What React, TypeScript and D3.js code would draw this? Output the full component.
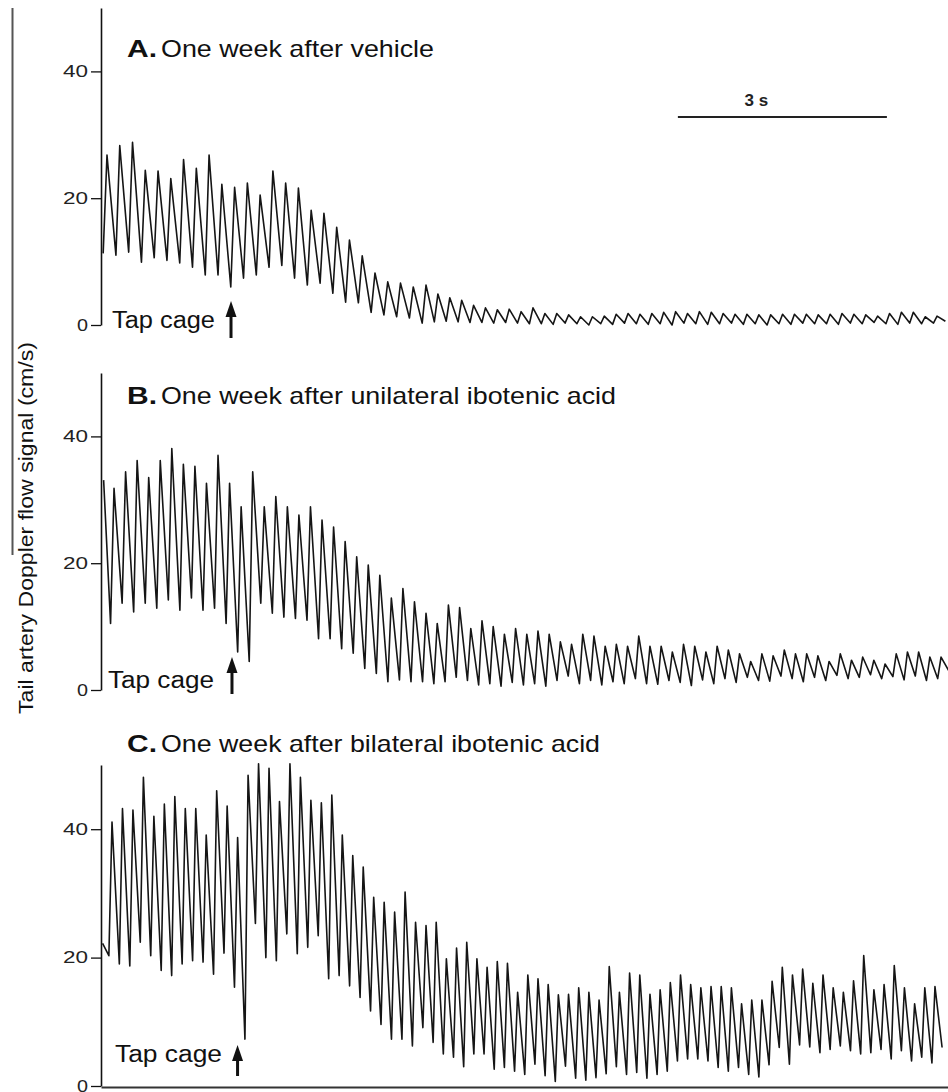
import React, { useEffect, useRef } from 'react';
import * as d3 from 'd3';

// Values, beat by beat (cm/s).
// troughs[i] is the minimum just before beat i; the extra last trough is the value at the right edge.

// A. vehicle
const peaksA = [26.8, 28.3, 28.8, 24.4, 24.3, 23.1, 26.1, 24.7, 26.8, 22.2, 21.7, 22.4, 20.5, 24.3, 22.4, 21.6, 18.1, 17.6, 15.4, 13.4, 10.9, 8.2, 6.8, 6.6, 6.0, 6.3,
  4.9, 4.3, 3.9, 3.1, 2.7, 2.4, 2.5, 2.1, 2.7,
  1.8, 1.8, 1.6, 1.3, 1.3, 1.4, 1.7, 1.8, 1.7, 1.8, 2.0, 2.1, 1.8, 2.1, 2.0, 1.8, 1.7, 1.7, 1.6, 1.6,
  1.7, 1.7, 1.7, 1.6, 1.7, 1.8, 1.7, 1.6, 1.4, 1.8, 2.0, 2.0, 1.3, 1.4];
const troughsA = [11.3, 11.0, 11.5, 9.9, 10.6, 10.2, 9.8, 9.1, 7.9, 7.9, 6.0, 7.4, 7.9, 9.1, 9.4, 7.4, 6.3, 6.6, 5.0, 3.6, 3.5, 2.0, 1.6, 1.3, 1.1, 0.3,
  0.5, 0.6, 0.5, 0.4, 0.4, 0.3, 0.4, 0.3, 0.2,
  0.2, 0.1, 0.3, 0.2, 0.0, 0.2, 0.1, 0.3, 0.2, 0.1, 0.2, 0.0, 0.3, 0.2, 0.1, 0.2, 0.3, 0.1, 0.2, 0.0,
  0.2, 0.1, 0.3, 0.2, 0.2, 0.1, 0.3, 0.2, 0.4, 0.2, 0.1, 0.3, 0.2, 0.3,
  0.6];
const beatIndexA = [0, 25, 68];
const beatTimeA = [0.086, 4.665, 12.0];

// B. unilateral ibotenic acid
const startB = 33.1;
const peaksB = [31.8, 34.4, 36.2, 33.5, 36.2, 38.1, 35.6, 35.3, 32.6, 37.0, 32.6, 28.9, 34.4, 28.9, 30.5, 28.9, 27.6, 28.9, 26.8, 25.7, 23.4, 21.0, 19.7, 18.1, 14.5, 16.0, 13.9, 12.1,
  10.5, 13.4, 13.0, 9.7, 10.9, 10.0, 8.8, 9.7, 8.8, 9.3, 8.8, 7.6, 7.2, 8.8, 8.5, 6.9, 7.2, 6.9, 8.5, 6.9,
  6.9, 6.0, 7.2, 6.9, 6.0, 6.9, 6.3, 5.7, 4.5, 5.7, 5.4, 6.3, 5.7, 5.7, 5.4, 4.5, 5.7, 4.7, 5.2, 4.7,
  4.1, 5.7, 6.0, 6.0, 5.2, 5.2];
const troughsB = [10.5, 13.7, 12.3, 13.7, 12.9, 14.2, 12.6, 14.5, 12.6, 12.9, 10.5, 6.0, 4.5, 13.7, 12.1, 11.5, 11.3, 11.0, 8.1, 8.1, 6.5, 5.8, 3.4, 2.6, 1.3, 1.6, 1.3, 1.3,
  1.0, 1.3, 2.0, 1.5, 0.8, 1.0, 0.6, 1.2, 0.8, 1.0, 0.6, 1.5, 2.2, 1.0, 1.5, 0.8, 1.3, 1.0,
  1.8, 1.0, 0.9, 1.5, 1.2, 0.7, 1.6, 1.0, 1.8, 1.2, 2.0, 1.5, 1.4, 2.2, 1.8, 1.3, 2.0, 1.5,
  2.3, 1.8, 2.0, 2.4, 1.8, 2.1, 1.6, 2.2, 1.5, 1.8,
  3.0];
const beatIndexB = [0, 27, 73];
const beatTimeB = [0.187, 4.665, 12.057];

// C. bilateral ibotenic acid
const startC = 22.2;
const peaksC = [41.1, 43.2, 43.0, 48.1, 42.0, 43.9, 45.1, 43.2, 43.2, 39.1, 46.0, 43.6, 38.7, 48.4, 50.2, 49.5, 44.3, 50.2, 48.1, 44.5, 44.1, 45.3, 39.1, 35.9, 34.1, 29.4, 28.6, 27.1, 30.2, 25.5, 25.0,
  25.5, 19.8, 21.5, 22.4, 19.8, 18.5, 19.4, 19.1, 14.6, 17.3, 16.7, 15.8, 14.2, 14.3, 15.3, 14.6, 13.4, 18.6, 14.6, 17.6,
  17.3, 14.3, 15.0, 16.1, 17.3, 15.8, 15.3, 15.5, 15.5, 15.3, 12.8, 13.4, 13.4, 16.3, 18.5, 17.3, 18.2, 16.0, 17.3, 15.3,
  14.6, 16.4, 20.3, 15.0, 15.8, 18.75, 15.3, 12.8, 15.3, 15.5];
const troughsC = [20.3, 19.0, 18.7, 22.4, 20.3, 18.0, 17.2, 19.0, 19.5, 19.3, 17.4, 20.7, 15.4, 7.3, 25.3, 20.0, 19.5, 23.7, 20.6, 21.6, 23.4, 16.7, 17.2, 15.6, 13.8, 11.7, 9.6, 7.3, 7.3, 6.25, 9.1,
  6.8, 5.0, 4.5, 3.0, 5.0, 5.0, 2.6, 2.9, 2.3, 1.8, 3.4, 1.6, 0.7, 3.1, 1.2, 0.9, 1.3, 1.9, 3.0, 1.8,
  2.1, 1.2, 1.8, 2.3, 3.9, 4.2, 4.2, 3.9, 2.9, 2.3, 2.9, 1.8, 1.4, 3.3, 6.0, 3.4, 6.4, 6.1, 5.2, 5.7,
  6.25, 5.5, 5.0, 5.2, 5.7, 4.2, 5.5, 3.9, 4.5, 3.6,
  6.0];
const beatIndexC = [0, 30, 80];
const beatTimeC = [0.158, 4.665, 11.97];

const yTicks = [0, 20, 40];
const yMax = 50;
const totalSeconds = 12.157;
const tapTimes = [1.866, 1.88, 1.96];
const scaleBarStart = 8.28;
const scaleBarSeconds = 3;

const W = 948;
const H = 1092;
const FONT = '"Liberation Sans", Arial, Helvetica, sans-serif';

const panels = [
  { letter: 'A.', title: 'One week after vehicle', titleW: 273, titleY: 57, zero: 325, top: 8,
    peaks: peaksA, troughs: troughsA, bIdx: beatIndexA, bT: beatTimeA, start: null as number | null,
    tapX: 112, tapY: 328, tapW: 103, arrowTop: 301, arrowBottom: 338 },
  { letter: 'B.', title: 'One week after unilateral ibotenic acid', titleW: 455, titleY: 404, zero: 690, top: 373,
    peaks: peaksB, troughs: troughsB, bIdx: beatIndexB, bT: beatTimeB, start: startB,
    tapX: 108, tapY: 688, tapW: 106, arrowTop: 657, arrowBottom: 694 },
  { letter: 'C.', title: 'One week after bilateral ibotenic acid', titleW: 439, titleY: 752, zero: 1086, top: 765,
    peaks: peaksC, troughs: troughsC, bIdx: beatIndexC, bT: beatTimeC, start: startC,
    tapX: 115, tapY: 1062, tapW: 107, arrowTop: 1045, arrowBottom: 1076 },
];

const x = d3.scaleLinear().domain([0, totalSeconds]).range([101, 948]);

function tracePoints(p: typeof panels[number]): [number, number][] {
  const beat = d3.scaleLinear().domain(p.bIdx).range(p.bT);
  const pts: [number, number][] = [];
  if (p.start != null) pts.push([beat(-0.9), p.start]);
  p.peaks.forEach((v, i) => {
    pts.push([beat(i - 0.3), p.troughs[i]]);
    pts.push([beat(i), v]);
  });
  pts.push([beat(p.peaks.length - 0.3), p.troughs[p.peaks.length]]);
  return pts;
}

function Panel({ p, idx }: { p: typeof panels[number]; idx: number }) {
  const axisRef = useRef<SVGGElement>(null);
  const bottomRef = useRef<SVGGElement>(null);
  const y = d3.scaleLinear().domain([0, yMax]).range([p.zero, p.top]);

  useEffect(() => {
    const g = d3.select(axisRef.current);
    g.selectAll('*').remove();
    g.call(d3.axisLeft(y).tickValues(yTicks).tickSize(10).tickPadding(3).tickSizeOuter(0) as any);
    g.select('.domain').attr('stroke', '#111').attr('stroke-width', 1.6);
    g.selectAll('.tick line').attr('stroke', '#111').attr('stroke-width', 1.3);
    g.selectAll('.tick text')
      .attr('font-family', FONT)
      .attr('font-size', 16)
      .attr('fill', '#222')
      .attr('textLength', (d: any) => (d === 0 ? 11 : 25))
      .attr('lengthAdjust', 'spacingAndGlyphs');
    if (bottomRef.current) {
      const b = d3.select(bottomRef.current);
      b.selectAll('*').remove();
      b.call(d3.axisBottom(x).tickValues([]).tickSizeOuter(0) as any);
      b.select('.domain').attr('stroke', '#333').attr('stroke-width', 2.2);
    }
  }, []);

  const line = d3.line<[number, number]>()
    .x(d => x(d[0]))
    .y(d => y(d[1]))
    .curve(d3.curveLinear);

  const ax = x(tapTimes[idx]);

  return (
    <g>
      <text x={127} y={p.titleY} fontFamily={FONT} fontSize={24} fontWeight="bold" fill="#111"
        textLength={30} lengthAdjust="spacingAndGlyphs">{p.letter}</text>
      <text x={161} y={p.titleY} fontFamily={FONT} fontSize={24} fill="#111"
        textLength={p.titleW} lengthAdjust="spacingAndGlyphs">{p.title}</text>
      <path d={line(tracePoints(p)) || ''} fill="none" stroke="#151515" strokeWidth={1.6} strokeLinejoin="round" clipPath="url(#plotClip)" />
      <g ref={axisRef} transform="translate(101,0)" />
      {idx === 2 && <g ref={bottomRef} transform={`translate(0,${p.zero + 1})`} />}
      <text x={p.tapX} y={p.tapY} fontFamily={FONT} fontSize={23} fill="#111"
        textLength={p.tapW} lengthAdjust="spacingAndGlyphs">Tap cage</text>
      <line x1={ax} x2={ax} y1={p.arrowTop + 10} y2={p.arrowBottom} stroke="#111" strokeWidth={3} />
      <path d={`M${ax},${p.arrowTop} L${ax - 5.5},${p.arrowTop + 16} L${ax + 5.5},${p.arrowTop + 16} Z`} fill="#111" />
    </g>
  );
}

export default function App() {
  return (
    <svg width={W} height={H} style={{ position: 'absolute', left: 0, top: 0, background: '#fff' }}>
      <defs>
        <clipPath id="plotClip">
          <rect x={101} y={0} width={W - 101} height={H} />
        </clipPath>
      </defs>
      <rect width={W} height={H} fill="#fff" />
      <line x1={12.5} x2={12.5} y1={8} y2={555} stroke="#555" strokeWidth={2} />
      <text transform="translate(33,528) rotate(-90)" textAnchor="middle" fontFamily={FONT} fontSize={21} fill="#111"
        textLength={372} lengthAdjust="spacingAndGlyphs">Tail artery Doppler flow signal (cm/s)</text>
      <line x1={x(scaleBarStart)} x2={x(scaleBarStart + scaleBarSeconds)} y1={117} y2={117} stroke="#222" strokeWidth={2} />
      <text x={(x(scaleBarStart) + x(scaleBarStart + scaleBarSeconds)) / 2 - 26} y={106} fontFamily={FONT} fontSize={17} fontWeight="bold" fill="#222"
        textAnchor="middle">{`${scaleBarSeconds} s`}</text>
      {panels.map((p, i) => <Panel key={p.letter} p={p} idx={i} />)}
    </svg>
  );
}
